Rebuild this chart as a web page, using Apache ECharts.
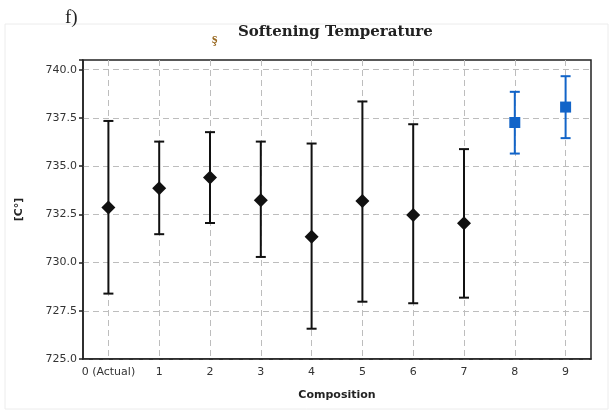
<!DOCTYPE html>
<html lang="en">
<head>
  <meta charset="UTF-8">
  <title>Softening Temperature</title>
  <script src="https://cdn.jsdelivr.net/npm/echarts@6/dist/echarts.min.js"></script>
</head>
<body style="margin:0">
  <div id="main" style="width:613px;height:413px;background:#fff"></div>
<script>
  // compositions and softening temperature [°C] with error bar ends
  const categories = ['0 (Actual)', '1', '2', '3', '4', '5', '6', '7', '8', '9'];
  const meanValues = [732.85, 733.85, 734.41, 733.23, 731.34, 733.19, 732.47, 732.04, 737.26, 738.06];
  const upperValues = [737.34, 736.27, 736.76, 736.27, 736.17, 738.35, 737.17, 735.88, 738.85, 739.66];
  const lowerValues = [728.39, 731.47, 732.05, 730.29, 726.57, 727.97, 727.89, 728.18, 735.65, 736.45];
  // compositions from this index on are drawn as blue squares
  const newFrom = 8;

  const black = '#111';
  const blue = '#1264c8';

  function errorBars(from, to, color) {
    let data = [];
    for (let i = from; i < to; i++) data.push([i, lowerValues[i], upperValues[i]]);
    return {
      type: 'custom',
      silent: true,
      encode: { x: 0, y: [1, 2] },
      data: data,
      renderItem: function (params, api) {
        const x = api.value(0);
        const lo = api.coord([x, api.value(1)]);
        const hi = api.coord([x, api.value(2)]);
        const half = 5;
        const style = { stroke: color, lineWidth: 2 };
        return {
          type: 'group',
          children: [
            { type: 'line', shape: { x1: lo[0], y1: lo[1], x2: hi[0], y2: hi[1] }, style: style },
            { type: 'line', shape: { x1: lo[0] - half, y1: lo[1], x2: lo[0] + half, y2: lo[1] }, style: style },
            { type: 'line', shape: { x1: hi[0] - half, y1: hi[1], x2: hi[0] + half, y2: hi[1] }, style: style }
          ]
        };
      },
      z: 3
    };
  }

  function points(from, to) {
    let data = [];
    for (let i = from; i < to; i++) data.push([i, meanValues[i]]);
    return data;
  }

  let myChart = echarts.init(document.getElementById('main'));
  let option = {
    animation: false,
    graphic: [
      { type: 'rect', shape: { x: 5, y: 24, width: 603, height: 385 }, style: { fill: 'none', stroke: '#ececec', lineWidth: 1 }, z: -1 },
      { type: 'text', left: 65, top: 9, style: { text: 'f)', font: '19px "Liberation Serif"', fill: '#222' } },
      { type: 'text', left: 212, top: 32, style: { text: 'ş', font: 'bold 14px "Liberation Serif"', fill: '#9a6a22' } },
      { type: 'text', left: 238, top: 25, style: { text: 'Softening Temperature', font: 'bold 15px "DejaVu Serif"', fill: '#222' } }
    ],
    grid: {
      left: 83, right: 22, top: 60, bottom: 54,
      show: true, borderColor: '#222', borderWidth: 1.5
    },
    xAxis: {
      type: 'category',
      data: categories,
      boundaryGap: true,
      name: 'Composition',
      nameLocation: 'middle',
      nameGap: 31,
      nameTextStyle: { fontFamily: 'DejaVu Sans', fontWeight: 'bold', fontSize: 11, color: '#222' },
      axisLine: { lineStyle: { color: '#222', width: 1.5 } },
      axisTick: { alignWithLabel: true, interval: 0, length: 5, lineStyle: { color: '#222', width: 1.5 } },
      axisLabel: { interval: 0, fontFamily: 'DejaVu Sans', fontSize: 11, color: '#333', margin: 8 },
      splitLine: { show: true, interval: 0, alignWithLabel: true, lineStyle: { color: '#bdbdbd', type: [6, 4], width: 1 } }
    },
    yAxis: {
      type: 'value',
      min: 725,
      max: 740.5,
      interval: 2.5,
      name: '[C°]',
      nameLocation: 'middle',
      nameGap: 58,
      nameTextStyle: { fontFamily: 'DejaVu Sans', fontWeight: 'bold', fontSize: 11, color: '#222' },
      axisLine: { show: true, lineStyle: { color: '#222', width: 1.5 } },
      axisTick: { show: true, length: 4, lineStyle: { color: '#222', width: 1.5 } },
      axisLabel: {
        fontFamily: 'DejaVu Sans', fontSize: 11, color: '#333', margin: 6,
        formatter: function (v) { return (v * 2) % 5 === 0 ? v.toFixed(1) : ''; }
      },
      splitLine: { show: true, showMaxLine: false, lineStyle: { color: '#bdbdbd', type: [6, 4], width: 1 } }
    },
    series: [
      errorBars(0, newFrom, black),
      errorBars(newFrom, categories.length, blue),
      {
        type: 'scatter',
        data: points(0, newFrom),
        symbol: 'diamond',
        symbolSize: [14, 14],
        itemStyle: { color: black, opacity: 1 },
        z: 4
      },
      {
        type: 'scatter',
        data: points(newFrom, categories.length),
        symbol: 'rect',
        symbolSize: 11,
        itemStyle: { color: blue, opacity: 1 },
        z: 4
      }
    ]
  };
  myChart.setOption(option);
</script>
</body>
</html>
